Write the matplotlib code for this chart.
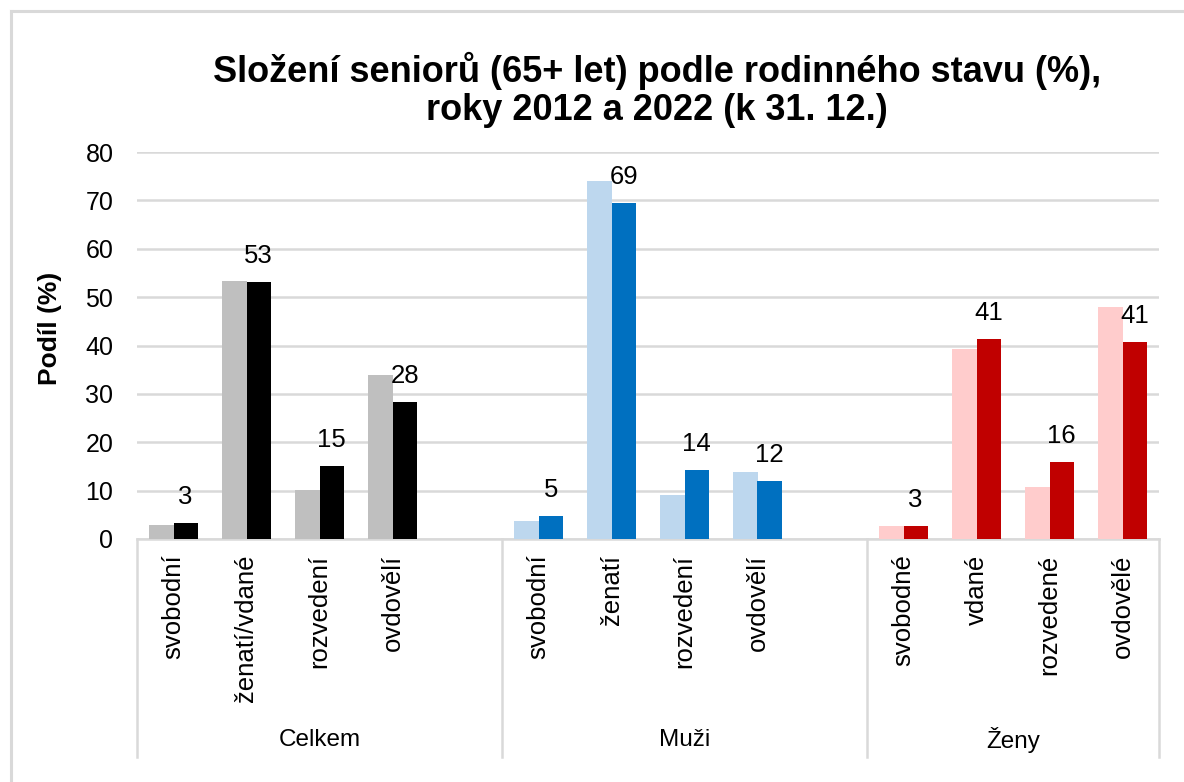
import numpy as np
import matplotlib.pyplot as plt
from matplotlib.lines import Line2D
import matplotlib.transforms as mtransforms

plt.rcParams['font.family'] = ['Liberation Sans', 'DejaVu Sans']

# data
groups = ['Celkem', 'Muži', 'Ženy']
cats_celkem = ['svobodní', 'ženatí/vdané', 'rozvedení', 'ovdovělí']
cats_muzi = ['svobodní', 'ženatí', 'rozvedení', 'ovdovělí']
cats_zeny = ['svobodné', 'vdané', 'rozvedené', 'ovdovělé']

celkem_2012 = [2.9, 53.4, 10.1, 33.9]
celkem_2022 = [3.4, 53.1, 15.1, 28.4]
muzi_2012 = [3.7, 74.1, 9.0, 13.8]
muzi_2022 = [4.7, 69.4, 14.3, 11.9]
zeny_2012 = [2.7, 39.2, 10.8, 47.9]
zeny_2022 = [2.7, 41.3, 15.9, 40.7]

col_2012 = ['#BFBFBF', '#BDD7EE', '#FFCCCC']
col_2022 = ['#000000', '#0070C0', '#C00000']

fig = plt.figure(figsize=(11.84, 7.82), dpi=100)
ax = fig.add_axes([137/1184, 1 - 539/782, 1022/1184, 387/782])

grid_col = '#D9D9D9'
w = 0.333
# slot start of each group (Celkem and Muzi have an empty slot after them)
starts = [0, 5, 10]
cats_all = [cats_celkem, cats_muzi, cats_zeny]
v12_all = [celkem_2012, muzi_2012, zeny_2012]
v22_all = [celkem_2022, muzi_2022, zeny_2022]

trans = mtransforms.blended_transform_factory(ax.transData, ax.transAxes)

for g in range(3):
    x = np.arange(4) + starts[g]
    ax.bar(x - w/2, v12_all[g], w, color=col_2012[g], zorder=3)
    ax.bar(x + w/2, v22_all[g], w, color=col_2022[g], zorder=3)
    for xi, v in zip(x, v22_all[g]):
        ax.annotate('%d' % round(v), (xi + w/2, v), xytext=(0, 26),
                    textcoords='offset pixels', ha='center', va='center',
                    fontsize=18.5, color='#000000')
    for xi, c in zip(x, cats_all[g]):
        ax.text(xi, -0.04, c, transform=trans, rotation=90, ha='center',
                va='top', fontsize=18.5, color='#000000')

# group labels and separators
bounds = [-0.5, 4.5, 9.5, 13.5]
for g in range(3):
    ax.text((bounds[g] + bounds[g+1]) / 2, -0.52, groups[g], transform=trans,
            ha='center', va='center', fontsize=17.5)
for b in bounds:
    ax.plot([b, b], [0, -0.563], transform=trans, color=grid_col, lw=1.8,
            clip_on=False, zorder=1)

ax.set_xlim(-0.5, 13.5)
ax.set_ylim(0, 80)
ax.set_yticks(range(0, 81, 10))
ax.yaxis.grid(True, color=grid_col, lw=1.8, zorder=0)
ax.set_xticks([])
ax.tick_params(axis='y', length=0, labelsize=18, pad=17)
for s in ['left', 'right', 'top']:
    ax.spines[s].set_visible(False)
ax.spines['bottom'].set_color(grid_col)
ax.spines['bottom'].set_linewidth(1.8)

ax.text(-0.0856, 0.545, 'Podíl (%)', transform=ax.transAxes, rotation=90,
        ha='center', va='center', fontsize=19, fontweight='bold')

fig.text(657/1184, 1 - 90/782,
         'Složení seniorů (65+ let) podle rodinného stavu (%),\nroky 2012 a 2022 (k 31. 12.)',
         ha='center', va='center', fontsize=26, fontweight='bold',
         linespacing=1.08)

# chart frame
fig.add_artist(Line2D([11/1184, 11/1184], [0, 1 - 11/782], color=grid_col, lw=2.2))
fig.add_artist(Line2D([11/1184, 1], [1 - 11/782, 1 - 11/782], color=grid_col, lw=2.2))

fig.savefig('out.png', dpi=100, facecolor='white')
